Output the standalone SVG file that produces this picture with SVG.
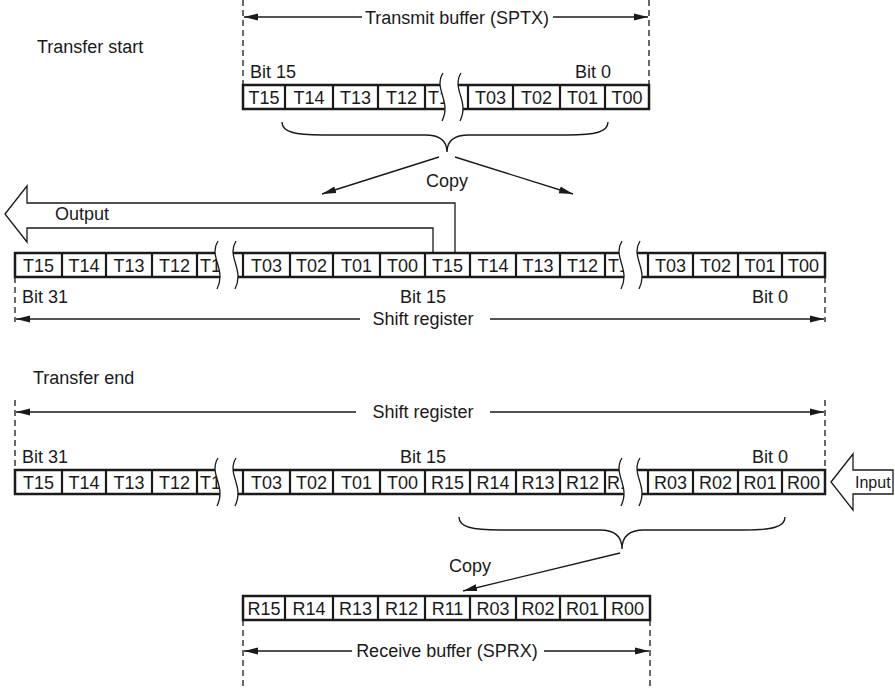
<svg xmlns="http://www.w3.org/2000/svg" xmlns:xlink="http://www.w3.org/1999/xlink" width="895" height="689" viewBox="0 0 895 689">
<style>
text{font-family:"Liberation Sans",Arial,sans-serif;font-size:18px;fill:#1a1a1a}
.c{text-anchor:middle}
.row{fill:none;stroke:#1a1a1a;stroke-width:2.5}
.div{fill:none;stroke:#1a1a1a;stroke-width:2.2}
.dash{fill:none;stroke:#1a1a1a;stroke-width:1.3;stroke-dasharray:6 4}
.ln{fill:none;stroke:#1a1a1a;stroke-width:1.4}
.big{fill:#fff;stroke:#1a1a1a;stroke-width:1.3}
</style>
<defs>
<marker id="ah" markerUnits="userSpaceOnUse" markerWidth="14" markerHeight="8" refX="14" refY="4" orient="auto">
<path d="M0,0.5 L14,4 L0,7.5 Z" fill="#1a1a1a"/>
</marker>
<g id="brk">
<path d="M4,-12 C-6,4 13,16 3,36 L21,36 C31,16 12,4 22,-12 Z" fill="#fff"/>
<path d="M4,-12 C-6,4 13,16 3,36 M22,-12 C12,4 31,16 21,36" fill="none" stroke="#1a1a1a" stroke-width="1.3"/>
</g>
</defs>
<rect width="895" height="689" fill="#fff"/>

<g id="labels">
<text x="37" y="53">Transfer start</text>
<text x="33" y="384">Transfer end</text>
</g>

<g id="transmit-buffer">
<path class="dash" d="M243,0V85 M649,0V85"/>
<text class="c" x="457" y="24">Transmit buffer (SPTX)</text>
<text x="250" y="78">Bit 15</text>
<text x="575" y="78">Bit 0</text>
<rect class="row" x="243" y="85" width="406" height="24"/>
<path class="div" d="M285,85V109 M333,85V109 M378,85V109 M425,85V109 M468,85V109 M513,85V109 M560,85V109 M605,85V109"/>
<text class="c" x="264" y="103.5">T15</text>
<text class="c" x="309" y="103.5">T14</text>
<text class="c" x="355.5" y="103.5">T13</text>
<text class="c" x="401.5" y="103.5">T12</text>
<text x="428" y="103.5">T1</text>
<text class="c" x="490.5" y="103.5">T03</text>
<text class="c" x="536.5" y="103.5">T02</text>
<text class="c" x="582.5" y="103.5">T01</text>
<text class="c" x="627" y="103.5">T00</text>
<use xlink:href="#brk" x="439" y="85"/>
</g>

<g id="output-arrow">
<path class="big" d="M5,214 L27,186 L27,203 L455,203 L455,253 L433,253 L433,228 L27,228 L27,242 Z"/>
<text x="55" y="220">Output</text>
</g>

<g id="shift-register-start">
<rect class="row" x="15" y="253" width="810" height="24"/>
<path class="div" d="M62,253V277 M106,253V277 M152,253V277 M197,253V277 M243,253V277 M290,253V277 M333,253V277 M380,253V277 M425,253V277 M470,253V277 M516,253V277 M560,253V277 M605,253V277 M648,253V277 M693,253V277 M738,253V277 M782,253V277"/>
<text class="c" x="38.5" y="271.5">T15</text>
<text class="c" x="84" y="271.5">T14</text>
<text class="c" x="129" y="271.5">T13</text>
<text class="c" x="174.5" y="271.5">T12</text>
<text x="200" y="271.5">T1</text>
<text class="c" x="266.5" y="271.5">T03</text>
<text class="c" x="311.5" y="271.5">T02</text>
<text class="c" x="356.5" y="271.5">T01</text>
<text class="c" x="402.5" y="271.5">T00</text>
<text class="c" x="447.5" y="271.5">T15</text>
<text class="c" x="493" y="271.5">T14</text>
<text class="c" x="538" y="271.5">T13</text>
<text class="c" x="582.5" y="271.5">T12</text>
<text x="608" y="271.5">T1</text>
<text class="c" x="670.5" y="271.5">T03</text>
<text class="c" x="715.5" y="271.5">T02</text>
<text class="c" x="760" y="271.5">T01</text>
<text class="c" x="803.5" y="271.5">T00</text>
<use xlink:href="#brk" x="214" y="253"/>
<use xlink:href="#brk" x="618" y="253"/>
<path class="dash" d="M15,277V322 M825,277V322"/>
<text x="22" y="303">Bit 31</text>
<text x="400" y="303">Bit 15</text>
<text x="752" y="303">Bit 0</text>
<text class="c" x="423" y="325">Shift register</text>
</g>

<g id="shift-register-end">
<path class="dash" d="M15,400V470 M825,400V470"/>
<text class="c" x="423" y="418">Shift register</text>
<text x="22" y="463">Bit 31</text>
<text x="400" y="463">Bit 15</text>
<text x="752" y="463">Bit 0</text>
<rect class="row" x="15" y="470" width="810" height="24"/>
<path class="div" d="M62,470V494 M106,470V494 M152,470V494 M197,470V494 M243,470V494 M290,470V494 M333,470V494 M380,470V494 M425,470V494 M470,470V494 M516,470V494 M560,470V494 M605,470V494 M648,470V494 M693,470V494 M738,470V494 M782,470V494"/>
<text class="c" x="38.5" y="488.5">T15</text>
<text class="c" x="84" y="488.5">T14</text>
<text class="c" x="129" y="488.5">T13</text>
<text class="c" x="174.5" y="488.5">T12</text>
<text x="200" y="488.5">T1</text>
<text class="c" x="266.5" y="488.5">T03</text>
<text class="c" x="311.5" y="488.5">T02</text>
<text class="c" x="356.5" y="488.5">T01</text>
<text class="c" x="402.5" y="488.5">T00</text>
<text class="c" x="447.5" y="488.5">R15</text>
<text class="c" x="493" y="488.5">R14</text>
<text class="c" x="538" y="488.5">R13</text>
<text class="c" x="582.5" y="488.5">R12</text>
<text x="607" y="488.5">R1</text>
<text class="c" x="670.5" y="488.5">R03</text>
<text class="c" x="715.5" y="488.5">R02</text>
<text class="c" x="760" y="488.5">R01</text>
<text class="c" x="803.5" y="488.5">R00</text>
<use xlink:href="#brk" x="214" y="470"/>
<use xlink:href="#brk" x="618" y="470"/>
</g>

<g id="input-arrow">
<path class="big" d="M831,482 L853,454 L853,470 L893,470 L893,494 L853,494 L853,510 Z"/>
<text x="855" y="488" style="font-size:16px">Input</text>
</g>

<g id="receive-buffer">
<rect class="row" x="243" y="596" width="407" height="24"/>
<path class="div" d="M285,596V620 M333,596V620 M378,596V620 M425,596V620 M470,596V620 M516,596V620 M560,596V620 M605,596V620"/>
<text class="c" x="264" y="614.5">R15</text>
<text class="c" x="309" y="614.5">R14</text>
<text class="c" x="355.5" y="614.5">R13</text>
<text class="c" x="401.5" y="614.5">R12</text>
<text class="c" x="447.5" y="614.5">R11</text>
<text class="c" x="493" y="614.5">R03</text>
<text class="c" x="538" y="614.5">R02</text>
<text class="c" x="582.5" y="614.5">R01</text>
<text class="c" x="627.5" y="614.5">R00</text>
<path class="dash" d="M243,620V689 M650,620V689"/>
<text class="c" x="447" y="657">Receive buffer (SPRX)</text>
</g>

<g id="connectors">
<line class="ln" x1="362" y1="17" x2="244" y2="17" marker-end="url(#ah)"/>
<line class="ln" x1="553" y1="17" x2="648" y2="17" marker-end="url(#ah)"/>
<path class="ln" d="M282,122 C282,132 295,135 322,135 L425,135 C440,135 447,141 447,152 C447,141 454,135 469,135 L568,135 C595,135 608,132 608,122"/>
<line class="ln" x1="439" y1="157" x2="322" y2="194" marker-end="url(#ah)"/>
<line class="ln" x1="455" y1="157" x2="573" y2="194" marker-end="url(#ah)"/>
<text class="c" x="447" y="187">Copy</text>
<line class="ln" x1="360" y1="319" x2="16" y2="319" marker-end="url(#ah)"/>
<line class="ln" x1="490" y1="319" x2="824" y2="319" marker-end="url(#ah)"/>
<line class="ln" x1="356" y1="412" x2="16" y2="412" marker-end="url(#ah)"/>
<line class="ln" x1="490" y1="412" x2="824" y2="412" marker-end="url(#ah)"/>
<path class="ln" d="M459,517 C459,527 472,530 500,530 L600,530 C615,530 622,537 622,549 C622,537 629,530 644,530 L745,530 C772,530 785,527 785,517"/>
<line class="ln" x1="620" y1="553" x2="463" y2="591" marker-end="url(#ah)"/>
<text class="c" x="470" y="572">Copy</text>
<line class="ln" x1="352" y1="651" x2="244" y2="651" marker-end="url(#ah)"/>
<line class="ln" x1="544" y1="651" x2="649" y2="651" marker-end="url(#ah)"/>
</g>
</svg>
